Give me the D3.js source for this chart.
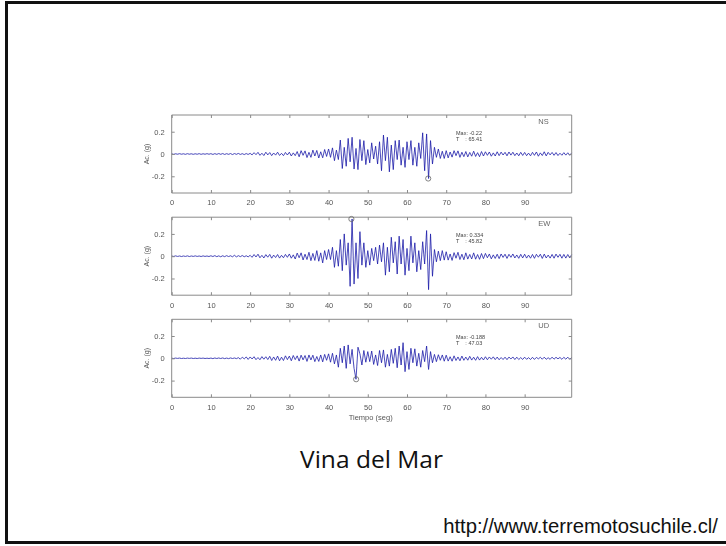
<!DOCTYPE html>
<html>
<head>
<meta charset="utf-8">
<script src="https://cdn.jsdelivr.net/npm/d3@7"></script>
<style>
  html, body { margin: 0; padding: 0; background: #fff; }
  svg { display: block; }
</style>
</head>
<body>
<script>
// Acceleration records, Viña del Mar station, sampled every 0.5 s (g)
const sampleStep = 0.5;
const components = ["NS", "EW", "UD"];

const accNS = [
  0.002,-0.003,0.002,-0.002,0.003,-0.002,0.002,-0.003,0.003,-0.002,0.002,-0.003,0.002,-0.002,0.003,-0.003,0.002,-0.002,0.003,-0.002,
  0.003,-0.004,0.003,-0.003,0.004,-0.003,0.004,-0.004,0.003,-0.003,0.004,-0.005,0.004,-0.003,0.005,-0.004,0.003,-0.005,0.004,-0.004,
  0.006,-0.008,0.012,-0.006,0.015,-0.012,0.007,-0.014,0.016,-0.008,0.013,-0.015,0.009,-0.010,0.016,-0.013,0.006,-0.015,0.014,-0.009,
  0.016,-0.018,0.010,-0.015,0.022,-0.025,0.030,-0.012,0.028,-0.032,0.015,-0.030,0.035,-0.018,0.032,-0.036,0.020,-0.034,0.040,-0.022,
  0.045,-0.030,0.055,-0.060,0.035,-0.050,0.125,-0.130,0.060,-0.110,0.140,-0.070,0.150,-0.135,0.050,-0.140,0.130,-0.060,0.120,-0.095,
  0.040,-0.080,0.100,-0.045,0.070,-0.090,0.110,-0.150,0.170,-0.060,0.150,-0.160,0.080,-0.140,0.120,-0.050,0.125,-0.100,0.060,-0.120,
  0.110,-0.050,0.120,-0.100,0.060,-0.110,0.100,-0.040,0.190,-0.150,0.180,-0.220,0.120,-0.090,0.060,-0.030,0.045,-0.040,0.025,-0.040,
  0.030,-0.035,0.018,-0.028,0.030,-0.015,0.028,-0.030,0.016,-0.024,0.022,-0.026,0.014,-0.020,0.025,-0.022,0.012,-0.024,0.022,-0.018,
  0.020,-0.012,0.018,-0.020,0.010,-0.018,0.020,-0.015,0.017,-0.009,0.015,-0.016,0.018,-0.010,0.016,-0.015,0.009,-0.016,0.015,-0.013,
  0.014,-0.015,0.008,-0.016,0.015,-0.012,0.018,-0.020,0.010,-0.014,0.020,-0.017,0.015,-0.008,0.014,-0.012,0.013,-0.014,0.007,-0.011,
  0.012,-0.010,0.011,-0.012,0.010
];

const accEW = [
  0.002,-0.002,0.003,-0.002,0.002,-0.003,0.002,-0.002,0.003,-0.003,0.002,-0.002,0.003,-0.002,0.002,-0.003,0.003,-0.002,0.002,-0.003,
  0.004,-0.003,0.005,-0.004,0.003,-0.005,0.004,-0.004,0.005,-0.003,0.004,-0.005,0.008,-0.006,0.005,-0.004,0.006,-0.005,0.004,-0.006,
  0.008,-0.010,0.015,-0.007,0.018,-0.014,0.008,-0.016,0.014,-0.009,0.016,-0.018,0.010,-0.012,0.015,-0.017,0.008,-0.014,0.016,-0.010,
  0.020,-0.018,0.012,-0.025,0.028,-0.014,0.030,-0.034,0.018,-0.030,0.035,-0.040,0.025,-0.038,0.050,-0.045,0.030,-0.060,0.050,-0.030,
  0.060,-0.030,0.080,-0.100,0.050,-0.090,0.150,-0.130,0.200,-0.080,0.120,-0.270,0.334,-0.250,0.120,-0.200,0.220,-0.080,0.120,-0.100,
  0.050,-0.080,0.070,-0.040,0.080,-0.070,0.100,-0.050,0.120,-0.170,0.080,-0.140,0.170,-0.060,0.130,-0.160,0.180,-0.070,0.150,-0.170,
  0.070,-0.130,0.180,-0.060,0.120,-0.140,0.050,-0.120,0.130,-0.070,0.230,-0.300,0.200,-0.180,0.060,-0.050,0.045,-0.040,0.050,-0.035,
  0.040,-0.035,0.020,-0.038,0.032,-0.018,0.035,-0.030,0.018,-0.032,0.030,-0.026,0.016,-0.025,0.030,-0.027,0.015,-0.028,0.024,-0.022,
  0.025,-0.014,0.020,-0.024,0.012,-0.020,0.018,-0.022,0.020,-0.011,0.018,-0.020,0.017,-0.010,0.020,-0.016,0.011,-0.019,0.017,-0.016,
  0.018,-0.017,0.010,-0.018,0.016,-0.019,0.017,-0.009,0.018,-0.020,0.019,-0.016,0.010,-0.017,0.016,-0.018,0.019,-0.010,0.017,-0.018,
  0.016,-0.017,0.015,-0.016,0.015
];

const accUD = [
  0.001,-0.002,0.002,-0.001,0.002,-0.002,0.001,-0.002,0.002,-0.001,0.002,-0.002,0.001,-0.002,0.002,-0.001,0.002,-0.002,0.001,-0.002,
  0.002,-0.003,0.003,-0.002,0.003,-0.002,0.003,-0.003,0.002,-0.003,0.003,-0.002,0.003,-0.003,0.006,-0.008,0.010,-0.005,0.012,-0.010,
  0.012,-0.006,0.014,-0.012,0.007,-0.013,0.015,-0.008,0.014,-0.011,0.018,-0.020,0.012,-0.018,0.020,-0.022,0.010,-0.020,0.022,-0.012,
  0.020,-0.022,0.025,-0.012,0.022,-0.025,0.028,-0.014,0.025,-0.028,0.030,-0.015,0.028,-0.030,0.016,-0.028,0.030,-0.032,0.035,-0.018,
  0.040,-0.035,0.045,-0.050,0.030,-0.080,0.090,-0.040,0.110,-0.090,0.120,-0.050,0.080,-0.090,-0.188,0.100,0.040,-0.060,0.070,-0.035,
  0.060,-0.030,0.065,-0.055,0.030,-0.065,0.070,-0.040,0.075,-0.080,0.035,-0.070,0.080,-0.045,0.090,-0.085,0.110,-0.060,0.140,-0.120,
  0.060,-0.100,0.090,-0.040,0.085,-0.070,0.045,-0.080,0.070,-0.030,0.110,-0.100,0.060,-0.040,0.035,-0.030,0.032,-0.018,0.030,-0.026,
  0.028,-0.025,0.014,-0.026,0.022,-0.020,0.012,-0.022,0.020,-0.018,0.011,-0.017,0.018,-0.016,0.010,-0.018,0.015,-0.016,0.009,-0.015,
  0.014,-0.013,0.012,-0.008,0.013,-0.012,0.011,-0.013,0.007,-0.011,0.010,-0.012,0.011,-0.006,0.012,-0.011,0.010,-0.011,0.006,-0.010,
  0.010,-0.009,0.006,-0.011,0.009,-0.010,0.008,-0.005,0.009,-0.008,0.010,-0.009,0.005,-0.009,0.010,-0.008,0.009,-0.005,0.008,-0.009,
  0.009,-0.008,0.010,-0.009,0.008
];

// Peak acceleration and time of peak for each component
const peakValues = [-0.22, 0.334, -0.188];
const peakTimes = [65.41, 45.82, 47.03];
const peakLabels = ["-0.22", "0.334", "-0.188"];
const peakTimeLabels = ["65.41", "45.82", "47.03"];

const xTicks = [0, 10, 20, 30, 40, 50, 60, 70, 80, 90];
const yTicks = [-0.2, 0, 0.2];
const yTickLabels = ["-0.2", "0", "0.2"];

const records = [accNS, accEW, accUD];

const W = 726, H = 546;
const svg = d3.select("body").append("svg").attr("width", W).attr("height", H);

// Slide frame
svg.append("line").attr("x1", 6).attr("x2", W).attr("y1", 2.5).attr("y2", 2.5)
  .attr("stroke", "#111").attr("stroke-width", 3);
svg.append("line").attr("x1", 6.5).attr("x2", 6.5).attr("y1", 1).attr("y2", 544)
  .attr("stroke", "#111").attr("stroke-width", 3);
svg.append("line").attr("x1", 5).attr("x2", W).attr("y1", 542.5).attr("y2", 542.5)
  .attr("stroke", "#111").attr("stroke-width", 3);

const defs = svg.append("defs");
defs.append("filter").attr("id", "soft")
  .append("feGaussianBlur").attr("stdDeviation", 0.45);

const chart = svg.append("g").attr("filter", "url(#soft)");

const plotLeft = 171.7, plotRight = 571.7, plotH = 78;
const panelTops = [115, 217.2, 319.3];

const x = d3.scaleLinear().domain([0, 102]).range([plotLeft, plotRight]);

const axisColor = "#8a8a8a";
const labelColor = "#555";
const sans = "Liberation Sans, Arial, sans-serif";

records.forEach((rec, k) => {
  const top = panelTops[k];
  const y = d3.scaleLinear().domain([-0.35, 0.35]).range([top + plotH, top]);
  const g = chart.append("g");

  // Trace
  const line = d3.line()
    .x((d, i) => x(i * sampleStep))
    .y(d => y(d));
  g.append("path").datum(rec)
    .attr("d", line)
    .attr("fill", "none")
    .attr("stroke", "#1c1ca8")
    .attr("stroke-width", 0.8)
    .attr("stroke-linejoin", "round");

  // Box with inward ticks on all four sides
  const bottom = g.append("g").attr("transform", `translate(0,${top + plotH})`)
    .call(d3.axisBottom(x).tickValues(xTicks).tickSize(-3).tickPadding(7)
      .tickFormat(d3.format("d")));
  const topAx = g.append("g").attr("transform", `translate(0,${top})`)
    .call(d3.axisTop(x).tickValues(xTicks).tickSize(-3).tickFormat(""));
  const left = g.append("g").attr("transform", `translate(${plotLeft},0)`)
    .call(d3.axisLeft(y).tickValues(yTicks).tickSize(-3).tickPadding(7)
      .tickFormat((d, i) => yTickLabels[i]));
  const right = g.append("g").attr("transform", `translate(${plotRight},0)`)
    .call(d3.axisRight(y).tickValues(yTicks).tickSize(-3).tickFormat(""));

  [bottom, topAx, left, right].forEach(a => {
    a.selectAll("path.domain").attr("stroke", axisColor).attr("stroke-width", 1);
    a.selectAll(".tick line").attr("stroke", axisColor);
    a.selectAll("text").attr("fill", labelColor)
      .attr("font-family", sans)
      .attr("font-size", 7.5);
  });
  // full domain lines so the box closes
  [bottom, topAx].forEach(a => a.select("path.domain")
    .attr("d", `M${plotLeft},0H${plotRight}`));
  [left, right].forEach(a => a.select("path.domain")
    .attr("d", `M0,${top}V${top + plotH}`));

  // Y axis title
  g.append("text")
    .attr("transform", `translate(147,${y(0)}) rotate(-90)`)
    .attr("text-anchor", "middle")
    .attr("dominant-baseline", "middle")
    .attr("fill", labelColor)
    .attr("font-family", sans)
    .attr("font-size", 7)
    .text("Ac. (g)");

  // Component name
  g.append("text")
    .attr("x", x(93.5)).attr("y", top + 8.5)
    .attr("fill", "#666")
    .attr("font-family", sans)
    .attr("font-size", 7.5)
    .text(components[k]);

  // Peak annotation
  g.append("text")
    .attr("x", x(72.5)).attr("y", top + 19.5)
    .attr("fill", "#444")
    .attr("font-family", sans)
    .attr("font-size", 5.5)
    .text(`Max: ${peakLabels[k]}`);
  g.append("text")
    .attr("x", x(72.5)).attr("y", top + 26)
    .attr("fill", "#444")
    .attr("font-family", sans)
    .attr("font-size", 5.5)
    .attr("xml:space", "preserve")
    .text(`T    : ${peakTimeLabels[k]}`);

  // Peak marker
  g.append("circle")
    .attr("cx", x(peakTimes[k]))
    .attr("cy", y(peakValues[k]))
    .attr("r", 2.6)
    .attr("fill", "none")
    .attr("stroke", "#666")
    .attr("stroke-width", 0.8);

  if (k === records.length - 1) {
    g.append("text")
      .attr("x", (plotLeft + plotRight) / 2 - 1).attr("y", top + plotH + 23)
      .attr("text-anchor", "middle")
      .attr("fill", labelColor)
      .attr("font-family", sans)
      .attr("font-size", 7.5)
      .text("Tiempo (seg)");
  }
});

// Fit a text element to a given width by adjusting its font size
function fitWidth(sel, width) {
  const node = sel.node();
  const fs = parseFloat(sel.attr("font-size"));
  const w = node.getComputedTextLength();
  if (w > 0) sel.attr("font-size", fs * width / w);
}

// Station name
const title = svg.append("text")
  .attr("x", 371.5).attr("y", 468)
  .attr("text-anchor", "middle")
  .attr("fill", "#111")
  .attr("font-family", "'Open Sans', Lato, sans-serif")
  .attr("font-size", 21)
  .text("Vina del Mar");
fitWidth(title, 143);

// Source
const source = svg.append("text")
  .attr("x", 718).attr("y", 532.5)
  .attr("text-anchor", "end")
  .attr("fill", "#111")
  .attr("font-family", sans)
  .attr("font-size", 14.5)
  .text("http://www.terremotosuchile.cl/");
fitWidth(source, 275);
</script>
</body>
</html>
